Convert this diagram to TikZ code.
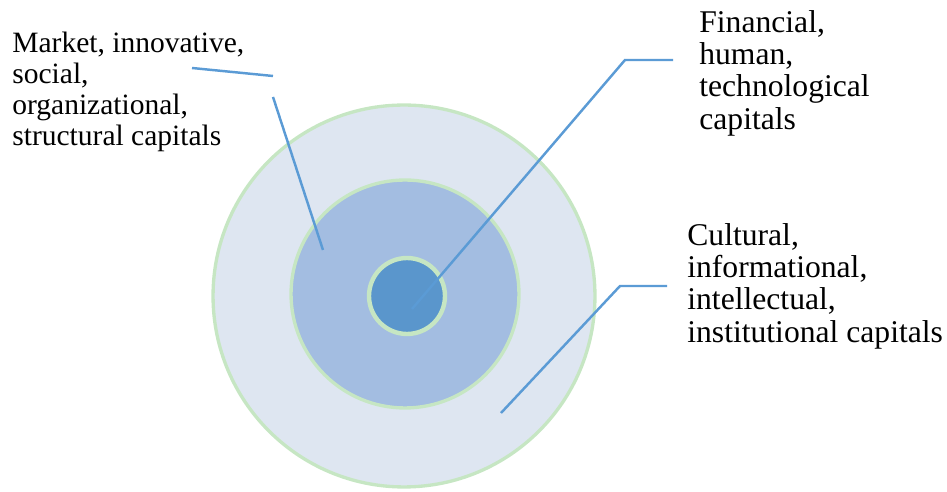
\documentclass[tikz,border=0pt]{standalone}
\usepackage{fontspec}
\setmainfont{Liberation Serif}
\usetikzlibrary{positioning}
\definecolor{ringgreen}{HTML}{C6E6C3}
\definecolor{outerfill}{HTML}{DEE6F1}
\definecolor{middlefill}{HTML}{A3BDE1}
\definecolor{innerfill}{HTML}{5A96CC}
\definecolor{leaderblue}{HTML}{5B9BD5}

\begin{document}
\begin{tikzpicture}[x=0.02cm, y=-0.02cm,
    ring/.style={circle, draw=ringgreen, inner sep=0pt},
    leader/.style={draw=leaderblue, line width=1.4pt},
    capt/.style={anchor=north west, inner sep=0pt, align=left}]
  \useasboundingbox (0,0) rectangle (947,492);

  % Rings
  \node[ring, fill=outerfill, line width=1.9pt, minimum size=7.64cm] (outer) at (404,296) {};
  \node[ring, fill=middlefill, line width=1.9pt, minimum size=4.56cm] (middle) at (405,294) {};
  \node[ring, fill=innerfill, line width=2.5pt, minimum size=1.52cm] (inner) at (407,296) {};

  % Labels
  \node[capt, font=\fontsize{16.8}{17.5}\selectfont] (market) at (12,32)
    {Market, innovative,\\social,\\organizational,\\structural capitals};
  \node[capt, font=\fontsize{18}{18.4}\selectfont] (financial) at (699,10)
    {Financial,\\human,\\technological\\capitals};
  \node[capt, font=\fontsize{18}{18.4}\selectfont] (cultural) at (687,223)
    {Cultural,\\informational,\\intellectual,\\institutional capitals};

  % Leader lines
  \coordinate (m1) at (192,68);
  \coordinate (m2) at (273,76);
  \coordinate (m3) at (273,97);
  \coordinate (m4) at (323,250);
  \draw[leader] (m1) -- (m2);
  \draw[leader] (m3) -- (m4);

  \coordinate (f1) at (673,60);
  \coordinate (f2) at (625,60);
  \coordinate (f3) at (412,309);
  \draw[leader] (f1) -- (f2) -- (f3);

  \coordinate (c1) at (667,286);
  \coordinate (c2) at (620,286);
  \coordinate (c3) at (501,413);
  \draw[leader] (c1) -- (c2) -- (c3);
\end{tikzpicture}
\end{document}
